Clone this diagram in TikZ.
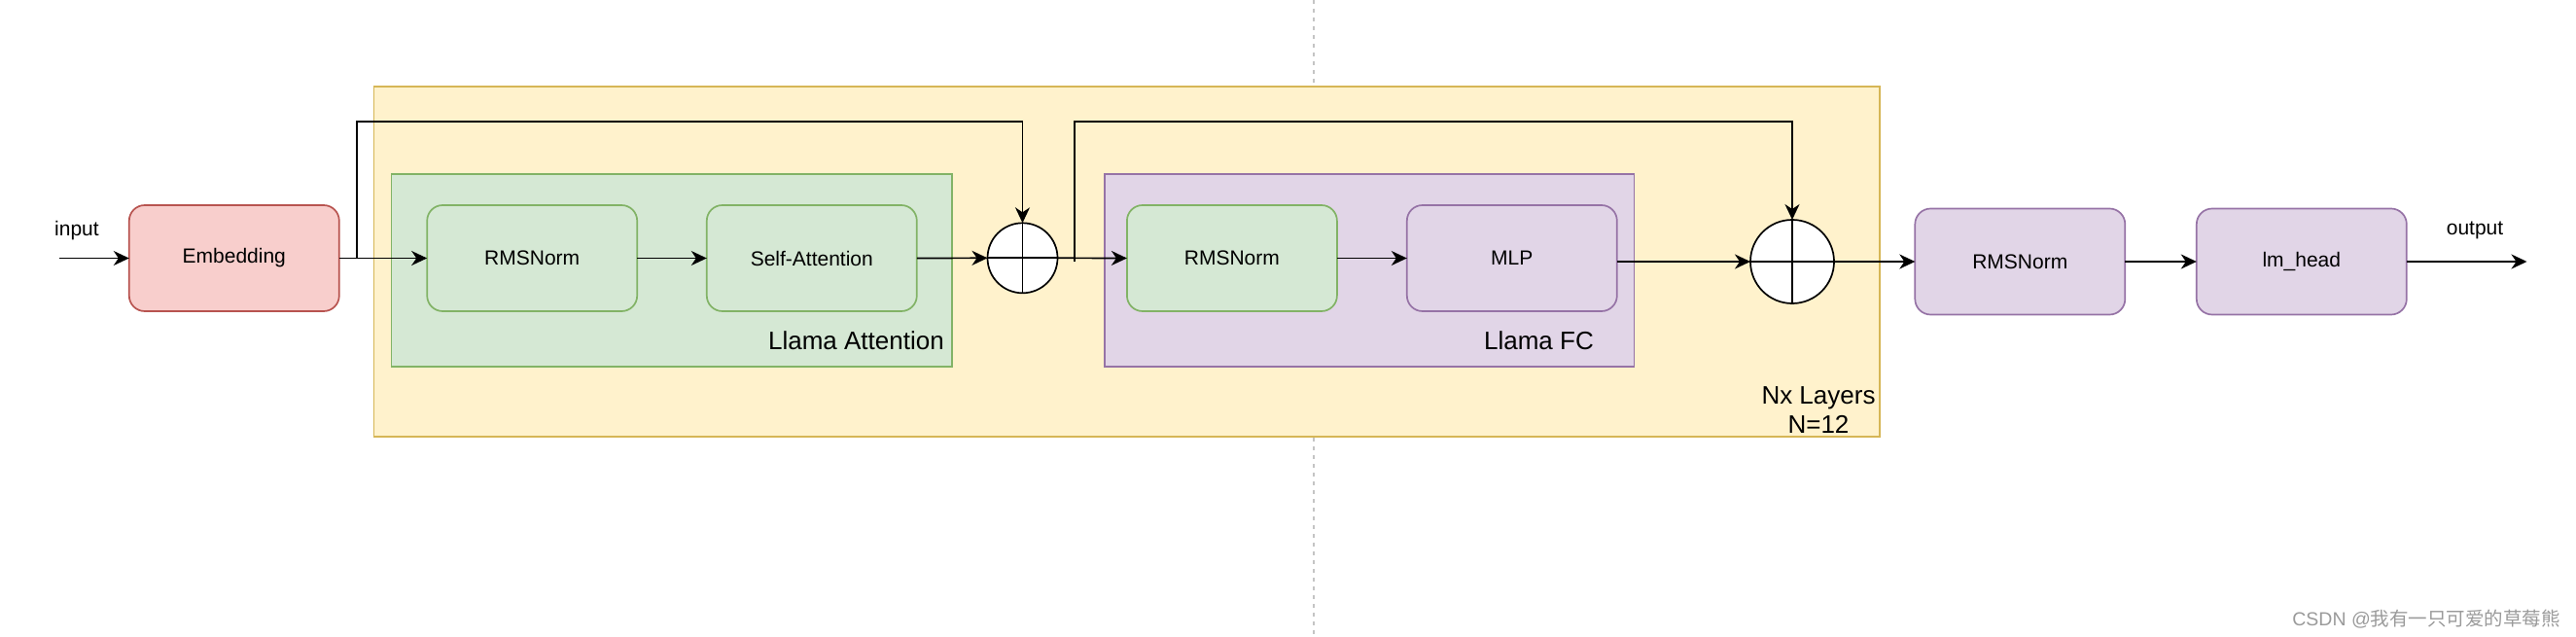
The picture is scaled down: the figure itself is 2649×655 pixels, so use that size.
\documentclass[tikz,border=0pt]{standalone}
\usepackage{fontspec}
\setmainfont{Liberation Sans}
\newfontfamily\cjkfont{Noto Sans CJK SC}
\usetikzlibrary{arrows.meta,positioning}
\definecolor{redfill}{HTML}{F8CECC}
\definecolor{redline}{HTML}{B85450}
\definecolor{greenfill}{HTML}{D5E8D4}
\definecolor{greenline}{HTML}{82B366}
\definecolor{purplefill}{HTML}{E1D5E7}
\definecolor{purpleline}{HTML}{9673A6}
\definecolor{yellowfill}{HTML}{FFF2CC}
\definecolor{yellowline}{HTML}{D6B656}
\definecolor{dashgray}{HTML}{C4C4C4}
\definecolor{wmgray}{HTML}{9A9A9A}
\tikzset{
  box/.style={rectangle, rounded corners=16pt, line width=1.7pt, minimum width=216pt, minimum height=109pt,
              inner sep=0pt, outer sep=0pt, font=\fontsize{21}{25}\selectfont, text=black},
  redbox/.style={box, draw=redline, fill=redfill},
  greenbox/.style={box, draw=greenline, fill=greenfill},
  purplebox/.style={box, draw=purpleline, fill=purplefill},
  container/.style={rectangle, line width=1.7pt, inner sep=0pt, outer sep=0pt},
  plus/.style={circle, draw=black, fill=white, line width=1.7pt, inner sep=0pt, outer sep=0pt},
  arr/.style={line width=1.7pt, -{Stealth[length=16pt,width=15pt,inset=5pt]}},
  bigl/.style={font=\fontsize{26}{30}\selectfont, inner sep=0pt, text=black},
  smalll/.style={font=\fontsize{21}{25}\selectfont, inner sep=0pt, text=black}
}
\begin{document}
\begin{tikzpicture}[x=1pt,y=-1pt]
\useasboundingbox (0,0) rectangle (2649,655);
% dashed guide
\coordinate (dtop) at (1351,0);
\coordinate (dbot) at (1351,655);
\draw[dashgray, line width=1.5pt, dash pattern=on 4pt off 5pt] (dtop) -- (dbot);
% containers
\node[container, draw=yellowline, fill=yellowfill, minimum width=1548.4pt, minimum height=360pt] (layers) at (1158.8,269) {};
\node[container, draw=greenline, fill=greenfill, minimum width=576.6pt, minimum height=198pt] (attn) at (690.7,278) {};
\node[container, draw=purpleline, fill=purplefill, minimum width=544.7pt, minimum height=198pt] (fc) at (1408.15,278) {};
% boxes
\node[redbox] (emb) at (240.8,265.5) {Embedding};
\node[greenbox] (rn1) at (547.2,265.5) {RMSNorm};
\node[greenbox] (sa) at (834.8,265.5) {Self-Attention};
\node[greenbox] (rn2) at (1266.9,265.5) {RMSNorm};
\node[purplebox] (mlp) at (1554.8,265.5) {MLP};
\node[purplebox] (rn3) at (2077.3,269) {RMSNorm};
\node[purplebox] (lm) at (2366.8,269) {lm\_head};
% plus circles
\node[plus, minimum size=72pt] (p1) at (1051.5,265.3) {};
\draw[line width=1.7pt] (p1.north) -- (p1.south);
\draw[line width=1.7pt] (p1.west) -- (p1.east);
\node[plus, minimum size=86pt] (p2) at (1843,269) {};
\draw[line width=1.7pt] (p2.north) -- (p2.south);
\draw[line width=1.7pt] (p2.west) -- (p2.east);
% labels
\node[bigl, anchor=east] (lattn) at (971,350) {Llama Attention};
\node[bigl, anchor=east] (lfc) at (1639,350) {Llama FC};
\node[bigl, align=center] (lnx) at (1870,422) {Nx Layers\\N=12};
\node[smalll] (lin) at (79,237) {input};
\node[smalll] (lout) at (2545,237) {output};
\node[anchor=east, inner sep=0pt, text=wmgray, font=\fontsize{19.5}{22}\selectfont] (wm) at (2633,637) {CSDN @{\cjkfont 我有一只可爱的草莓熊}};
% connectors
\coordinate (in) at (61,265.5);
\coordinate (out) at (2598.5,269);
\coordinate (s1) at (367.3,265.5);
\coordinate (s1top) at (367.3,125);
\coordinate (s2) at (1105,269);
\coordinate (s2top) at (1105,125);
\draw[arr] (in) -- (emb.west);
\draw[arr] (emb.east) -- (rn1.west);
\draw[arr] (rn1.east) -- (sa.west);
\draw[arr] (sa.east) -- (p1.west);
\draw[arr] (p1.east) -- (rn2.west);
\draw[arr] (rn2.east) -- (mlp.west);
\draw[arr] (mlp.east |- p2.west) -- (p2.west);
\draw[arr] (p2.east) -- (rn3.west);
\draw[arr] (rn3.east) -- (lm.west);
\draw[arr] (lm.east) -- (out);
\draw[arr] (s1) -- (s1top) -| (p1.north);
\draw[arr] (s2) -- (s2top) -| (p2.north);
\end{tikzpicture}
\end{document}
